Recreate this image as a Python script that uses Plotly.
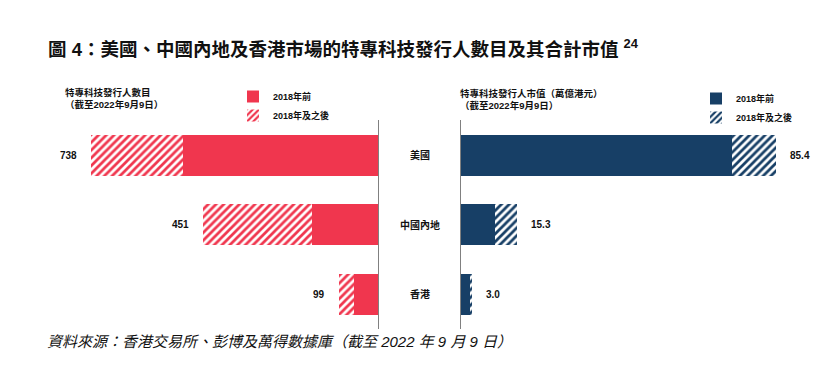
import plotly.graph_objects as go

categories = ["美國", "中國內地", "香港"]
count_before = [501, 170, 62]
count_after = [237, 281, 37]
count_total = [738, 451, 99]
cap_before = [73.4, 9.2, 2.6]
cap_after = [12.0, 6.1, 0.4]
cap_total = [85.4, 15.3, 3.0]
cap_labels = ["85.4", "15.3", "3.0"]
series_names = ["2018年前", "2018年及之後"]

RED = "#F0364E"
NAVY = "#173F66"
FONT = "Liberation Sans, Arial, Noto Sans CJK TC, sans-serif"
OFF = 8  # default body margin of the page
W, H = 839 - 2 * OFF, 377 - 2 * OFF

def px(x):
    return (x - OFF) / W

def py(y):
    return 1 - (y - OFF) / H

fig = go.Figure()

pat = dict(shape="/", bgcolor="white", size=5.5, solidity=0.5, fgopacity=1, fillmode="replace")
fig.add_trace(go.Bar(
    y=categories, x=count_before, orientation="h", name=f"<b>{series_names[0]}</b>",
    marker=dict(color=RED, line=dict(width=0)),
    xaxis="x", yaxis="y", legend="legend", hoverinfo="x+y"))
fig.add_trace(go.Bar(
    y=categories, x=count_after, orientation="h", name=f"<b>{series_names[1]}</b>",
    marker=dict(color="white", line=dict(width=0), pattern=dict(fgcolor=RED, **pat)),
    xaxis="x", yaxis="y", legend="legend", hoverinfo="x+y"))
fig.add_trace(go.Bar(
    y=categories, x=cap_before, orientation="h", name=f"<b>{series_names[0]}</b>",
    marker=dict(color=NAVY, line=dict(width=0)),
    xaxis="x2", yaxis="y2", legend="legend2", hoverinfo="x+y"))
fig.add_trace(go.Bar(
    y=categories, x=cap_after, orientation="h", name=f"<b>{series_names[1]}</b>",
    marker=dict(color="white", line=dict(width=0), pattern=dict(fgcolor=NAVY, **pat)),
    xaxis="x2", yaxis="y2", legend="legend2", hoverinfo="x+y"))

ydom = [py(328.75), py(120.25)]
axis_common = dict(showgrid=False, zeroline=False, showticklabels=False, ticks="")
legend_common = dict(xanchor="left", yanchor="top",
                     font=dict(size=9, family=FONT, color="#111111"),
                     bgcolor="rgba(0,0,0,0)", itemwidth=30, tracegroupgap=0,
                     traceorder="normal")
fig.update_layout(
    width=W, height=H,
    margin=dict(l=0, r=0, t=0, b=0),
    paper_bgcolor="white", plot_bgcolor="white",
    barmode="stack", bargap=0.41,
    font=dict(family=FONT, color="#111111"),
    xaxis=dict(domain=[px(20), px(378)], range=[920, 0], anchor="y", **axis_common),
    yaxis=dict(domain=ydom, anchor="x", side="right", categoryorder="array",
               categoryarray=categories, autorange="reversed",
               showline=True, linecolor="#808080", linewidth=1, **axis_common),
    xaxis2=dict(domain=[px(461), px(830)], range=[0, 100], anchor="y2", **axis_common),
    yaxis2=dict(domain=ydom, anchor="x2", side="left", categoryorder="array",
                categoryarray=categories, autorange="reversed",
                showline=True, linecolor="#808080", linewidth=1, **axis_common),
    legend=dict(x=px(233), y=py(82), **legend_common),
    legend2=dict(x=px(696), y=py(84), **legend_common),
    showlegend=True,
)

annotations = []
annotations.append(dict(
    text="<b>圖 4：美國、中國內地及香港市場的特專科技發行人數目及其合計市值 <sup>24</sup></b>",
    xref="paper", yref="paper", x=px(46), y=py(48), xanchor="left", yanchor="middle",
    showarrow=False, font=dict(size=18.5, family=FONT, color="#111111")))
annotations.append(dict(
    text="<b>特專科技發行人數目<br>（截至2022年9月9日）</b>",
    xref="paper", yref="paper", x=px(63), y=py(98), xanchor="left", yanchor="middle",
    align="left", showarrow=False, font=dict(size=9.5, family=FONT, color="#111111")))
annotations.append(dict(
    text="<b>特專科技發行人市值（萬億港元）<br>（截至2022年9月9日）</b>",
    xref="paper", yref="paper", x=px(458), y=py(99), xanchor="left", yanchor="middle",
    align="left", showarrow=False, font=dict(size=9.5, family=FONT, color="#111111")))
annotations.append(dict(
    text="<i>資料來源：香港交易所、彭博及萬得數據庫（截至 2022 年 9 月 9 日）</i>",
    xref="paper", yref="paper", x=px(45), y=py(341), xanchor="left", yanchor="middle",
    showarrow=False, font=dict(size=15, family=FONT, color="#111111")))

for cat, tot in zip(categories, count_total):
    annotations.append(dict(
        text=f"<b>{tot}</b>", xref="x", yref="y", x=tot, y=cat,
        xanchor="right", yanchor="middle", xshift=-12, showarrow=False,
        font=dict(size=10, family=FONT, color="#111111")))
for cat, tot, lab in zip(categories, cap_total, cap_labels):
    annotations.append(dict(
        text=f"<b>{lab}</b>", xref="x2", yref="y2", x=tot, y=cat,
        xanchor="left", yanchor="middle", xshift=12, showarrow=False,
        font=dict(size=10, family=FONT, color="#111111")))
for cat in categories:
    annotations.append(dict(
        text=f"<b>{cat}</b>", xref="paper", yref="y", x=px(420), y=cat,
        xanchor="center", yanchor="middle", showarrow=False,
        font=dict(size=10, family=FONT, color="#111111")))

fig.update_layout(annotations=annotations)
fig.write_html("out.html")
